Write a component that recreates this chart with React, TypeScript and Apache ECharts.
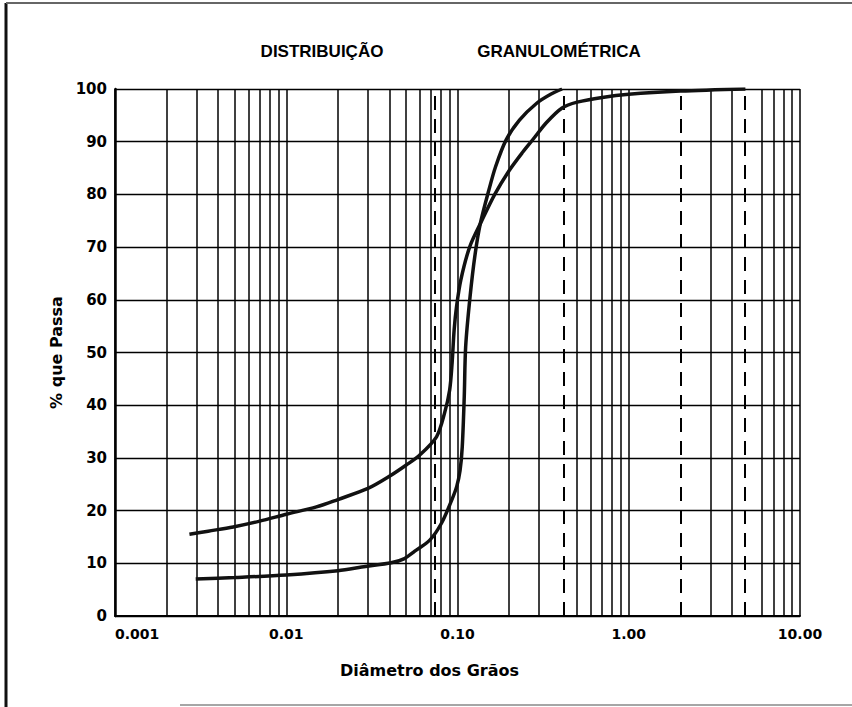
import React, { useEffect, useRef } from "react";
import * as echarts from "echarts";

// x axis (log) decade ticks and their printed labels
const xDecades = [0.001, 0.01, 0.1, 1, 10];
const xTickLabels = ["0.001", "0.01", "0.10", "1.00", "10.00"];

// minor vertical grid lines (solid)
const minorGridX = [
  0.002, 0.003, 0.004, 0.005, 0.006, 0.007, 0.008, 0.009,
  0.02, 0.03, 0.04, 0.05, 0.06, 0.07, 0.08, 0.09,
  0.2, 0.3, 0.5, 0.6, 0.7, 0.8, 0.9,
  3, 4, 6, 7, 8, 9,
];
// sieve boundaries (dashed vertical lines)
const dashedGridX = [0.074, 0.42, 2.0, 4.76];

// Curve A (upper at fine end)
const diamA = [
  0.00272, 0.0035, 0.0049, 0.007, 0.01, 0.015, 0.02, 0.03, 0.04, 0.05, 0.06,
  0.0754, 0.084, 0.09, 0.093, 0.0956, 0.0987, 0.1046, 0.118, 0.139, 0.165,
  0.2, 0.24, 0.28, 0.33, 0.408, 0.5, 0.7, 1.0, 2.0, 4.8,
];
const passA = [
  15.5, 16.1, 16.9, 18.0, 19.3, 20.7, 22.1, 24.2, 26.5, 28.6, 30.5,
  34, 38.5, 42.9, 48, 54.3, 58.7, 63.8, 70.1, 75.1, 80,
  84.5, 88, 90.7, 93.6, 96.4, 97.5, 98.4, 99, 99.6, 100,
];

// Curve B (lower at fine end)
const diamB = [
  0.00296, 0.005, 0.01, 0.02, 0.029, 0.041, 0.049, 0.0563, 0.0689, 0.0806,
  0.092, 0.099, 0.1035, 0.1066, 0.1095, 0.1116, 0.1184, 0.1269, 0.136, 0.1524, 0.167,
  0.192, 0.23, 0.29, 0.35, 0.408,
];
const passB = [
  7.0, 7.3, 7.8, 8.6, 9.4, 10.1, 10.9, 12.3, 14.4, 17.6,
  21.8, 24.6, 27.6, 32.1, 41.6, 51.1, 60.6, 68.8, 74.5, 80.8, 85.3,
  90.3, 94.1, 97.3, 99.0, 100,
];

const yTicks = ["0", "10", "20", "30", "40", "50", "60", "70", "80", "90", "100"];

const FONT = "'DejaVu Sans', 'Liberation Sans', sans-serif";

export default function App() {
  const ref = useRef<HTMLDivElement>(null);

  useEffect(() => {
    if (!ref.current) return;
    const chart = echarts.init(ref.current, null, { renderer: "svg" });

    const gridLineData: any[] = [
      ...minorGridX.map((v) => ({
        xAxis: v,
        lineStyle: { color: "#000", width: 1.5, type: "solid" },
      })),
      ...dashedGridX.map((v) => ({
        xAxis: v,
        lineStyle: { color: "#000", width: 2, type: [14, 9] },
      })),
    ];

    const titleStyle = {
      fontFamily: "'Liberation Sans', sans-serif",
      fontSize: 17,
      fontWeight: "bold",
      color: "#000",
    };

    const option: any = {
      animation: false,
      backgroundColor: "#fff",
      title: [
        { text: "DISTRIBUIÇÃO", left: 322, top: 43, textAlign: "center", padding: 0, textStyle: titleStyle },
        { text: "GRANULOMÉTRICA", left: 559, top: 43, textAlign: "center", padding: 0, textStyle: titleStyle },
      ],
      grid: { left: 115, right: 52, top: 89, bottom: 91, containLabel: false },
      xAxis: {
        type: "log",
        logBase: 10,
        min: xDecades[0],
        max: xDecades[xDecades.length - 1],
        name: "Diâmetro dos Grãos",
        nameLocation: "middle",
        nameGap: 46,
        nameTextStyle: {
          fontFamily: FONT,
          fontSize: 16,
          fontWeight: "bold",
          color: "#000",
          padding: [0, 56, 0, 0],
        },
        axisLine: { show: true, onZero: false, lineStyle: { color: "#000", width: 2 } },
        axisTick: { show: false },
        splitLine: { show: true, lineStyle: { color: "#000", width: 1.5 } },
        axisLabel: {
          color: "#000",
          fontFamily: FONT,
          fontSize: 14,
          fontWeight: "bold",
          margin: 11,
          alignMinLabel: "left",
          formatter: (v: number) => {
            const idx = Math.round(Math.log10(v)) + 3;
            return xTickLabels[idx] ?? "";
          },
        },
      },
      yAxis: {
        type: "value",
        min: 0,
        max: 100,
        interval: 10,
        name: "% que Passa",
        nameLocation: "middle",
        nameRotate: 90,
        nameGap: 47,
        nameTextStyle: { fontFamily: FONT, fontSize: 16, fontWeight: "bold", color: "#000" },
        axisLine: { show: true, onZero: false, lineStyle: { color: "#000", width: 2.5 } },
        axisTick: { show: false },
        splitLine: { show: true, lineStyle: { color: "#000", width: 1.4 } },
        axisLabel: {
          color: "#000",
          fontFamily: FONT,
          fontSize: 15,
          fontWeight: "bold",
          margin: 8,
          formatter: (v: number) => yTicks[Math.round(v / 10)] ?? "",
        },
      },
      graphic: [
        { type: "line", shape: { x1: 6, y1: 3, x2: 6, y2: 707 }, style: { stroke: "#111", lineWidth: 3 } },
        { type: "line", shape: { x1: 6, y1: 3, x2: 852, y2: 3 }, style: { stroke: "#666", lineWidth: 2 } },
        { type: "line", shape: { x1: 180, y1: 705, x2: 852, y2: 705 }, style: { stroke: "#888", lineWidth: 1.5 } },
      ],
      series: [
        {
          type: "line",
          name: "A",
          data: diamA.map((d, i) => [d, passA[i]]),
          showSymbol: false,
          smooth: 0.3,
          lineStyle: { color: "#111", width: 3.5 },
          z: 3,
          silent: true,
        },
        {
          type: "line",
          name: "B",
          data: diamB.map((d, i) => [d, passB[i]]),
          showSymbol: false,
          smooth: 0.3,
          lineStyle: { color: "#111", width: 3.5 },
          z: 3,
          silent: true,
          markLine: {
            silent: true,
            precision: 6,
            symbol: ["none", "none"],
            label: { show: false },
            z: 1,
            data: gridLineData,
          },
        },
      ],
    };

    chart.setOption(option);
    return () => chart.dispose();
  }, []);

  return (
    <div
      ref={ref}
      style={{ position: "fixed", left: 0, top: 0, width: 852, height: 707, background: "#fff" }}
    />
  );
}
